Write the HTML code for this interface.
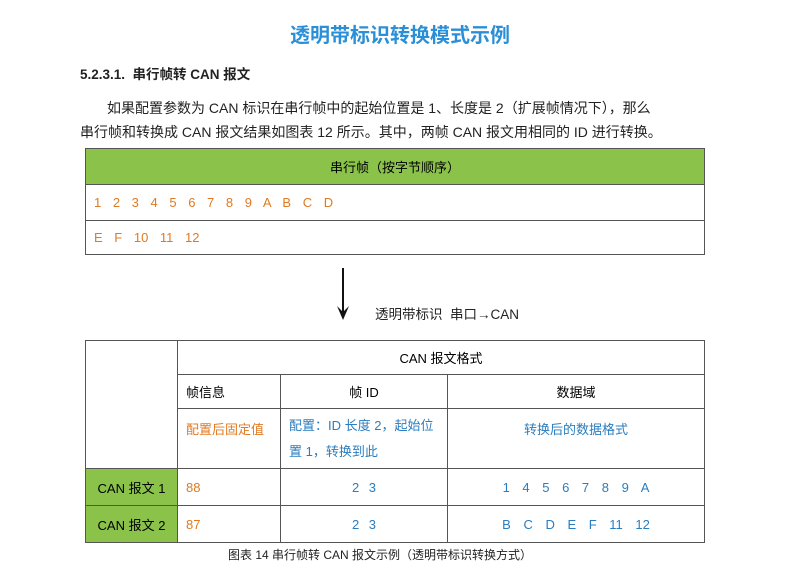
<!DOCTYPE html>
<html><head><meta charset="utf-8"><style>
body{margin:0;width:800px;height:565px;background:#fff;position:relative;font-family:"Liberation Sans","Noto Sans CJK SC",sans-serif;overflow:hidden}
.a{position:absolute;white-space:nowrap}
table{position:absolute;border-collapse:collapse;font-size:13px}
td{border:1.5px solid #555;padding:0 8px}
.o{color:#e07a22}.b{color:#2a7dbf}
.g{background:#8bc34a}
</style></head><body>
<div class="a" style="left:0;width:800px;text-align:center;top:19px;font-size:20px;font-weight:bold;color:#2a8fd6">透明带标识转换模式示例</div>
<div class="a" style="left:80px;top:63px;font-size:13.5px;font-weight:bold;color:#222">5.2.3.1.&nbsp; 串行帧转 CAN 报文</div>
<div class="a" style="left:107px;top:98px;font-size:14px;color:#222">如果配置参数为 CAN 标识在串行帧中的起始位置是 1、长度是 2（扩展帧情况下），那么</div>
<div class="a" style="left:80px;top:122px;font-size:14px;color:#222">串行帧和转换成 CAN 报文结果如图表 12 所示。其中，两帧 CAN 报文用相同的 ID 进行转换。</div>
<table style="left:85px;top:148px;width:620px">
<tr style="height:36px"><td class="g" style="text-align:center">串行帧（按字节顺序）</td></tr>
<tr style="height:36px"><td class="o" style="word-spacing:8px">1 2 3 4 5 6 7 8 9 A B C D</td></tr>
<tr style="height:34px"><td class="o" style="word-spacing:8px">E F 10 11 12</td></tr>
</table>
<svg class="a" style="left:333px;top:268px" width="20" height="54"><line x1="10" y1="0" x2="10" y2="46" stroke="#111" stroke-width="2"/><path d="M4 38 L10 52 L16 38 L10 44 Z" fill="#111"/></svg>
<div class="a" style="left:375px;top:303px;font-size:13.5px;color:#222">透明带标识&nbsp; 串口→CAN</div>
<table style="left:85px;top:340px;width:620px;table-layout:fixed">
<colgroup><col style="width:92px"><col style="width:103px"><col style="width:167px"><col></colgroup>
<tr style="height:34px"><td rowspan="3"></td><td colspan="3" style="text-align:center">CAN 报文格式</td></tr>
<tr style="height:34px"><td>帧信息</td><td style="text-align:center">帧 ID</td><td style="text-align:center">数据域</td></tr>
<tr style="height:60px"><td class="o" style="vertical-align:top;padding-top:10px;white-space:nowrap">配置后固定值</td><td class="b" style="line-height:26px;white-space:nowrap">配置：ID 长度 2，起始位<br>置 1，转换到此</td><td class="b" style="text-align:center;vertical-align:top;padding-top:10px">转换后的数据格式</td></tr>
<tr style="height:37px"><td class="g" style="text-align:center">CAN 报文 1</td><td class="o">88</td><td class="b" style="text-align:center;word-spacing:6px">2 3</td><td class="b" style="text-align:center;word-spacing:9px">1 4 5 6 7 8 9 A</td></tr>
<tr style="height:37px"><td class="g" style="text-align:center">CAN 报文 2</td><td class="o">87</td><td class="b" style="text-align:center;word-spacing:6px">2 3</td><td class="b" style="text-align:center;word-spacing:9px">B C D E F 11 12</td></tr>
</table>
<div class="a" style="left:228px;top:546px;font-size:12px;color:#222">图表 14 串行帧转 CAN 报文示例（透明带标识转换方式）</div>
</body></html>
